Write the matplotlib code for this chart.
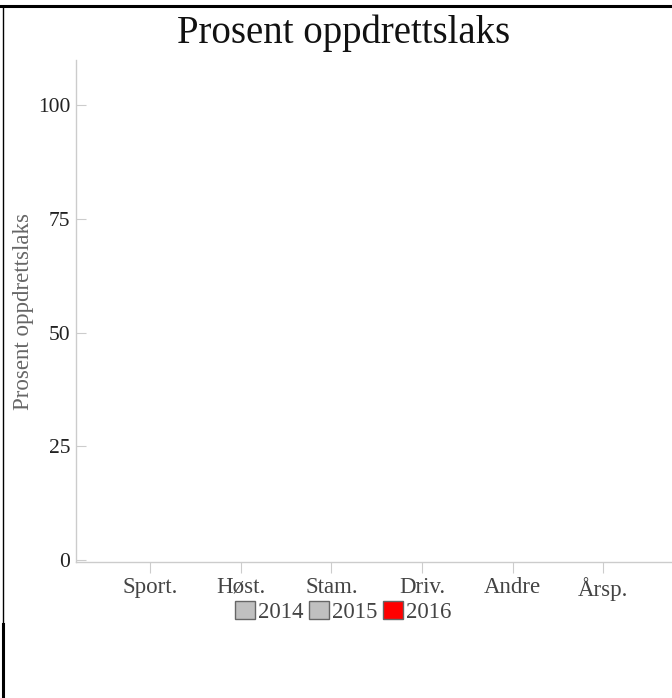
import numpy as np
import matplotlib.pyplot as plt
from matplotlib.lines import Line2D

plt.rcParams['font.family'] = ['Liberation Serif', 'DejaVu Serif']

# data (chart shows no bars for any year)
categories = ['Sport.', 'Høst.', 'Stam.', 'Driv.', 'Andre', 'Årsp.']
years = ['2014', '2015', '2016']
vals_2014 = [0, 0, 0, 0, 0, 0]
vals_2015 = [0, 0, 0, 0, 0, 0]
vals_2016 = [0, 0, 0, 0, 0, 0]
colors = ['#c0c0c0', '#c0c0c0', '#ff0000']
yticks = [0, 25, 50, 75, 100]

W, H = 672, 698
fig = plt.figure(figsize=(W / 100, H / 100), dpi=100)
ax = fig.add_axes([76 / W, (H - 562) / H, (W - 76) / W, (562 - 60) / H])

x = np.arange(len(categories))
bw = 0.25
series = [vals_2014, vals_2015, vals_2016]
handles = []
for i, (yr, vals) in enumerate(zip(years, series)):
    ax.bar(x + (i - 1) * bw, vals, width=bw, color=colors[i],
           edgecolor='#555555', linewidth=0, label=yr)
    handles.append(plt.Rectangle((0, 0), 1, 1, facecolor=colors[i],
                                 edgecolor='#666666', linewidth=1))

ax.set_xlim(-0.82, 5.76)
ax.set_ylim(-0.5, 110)
ax.set_xticks(x)
ax.set_xticklabels(categories)
ax.set_yticks(yticks)

for s in ['top', 'right']:
    ax.spines[s].set_visible(False)
for s in ['left', 'bottom']:
    ax.spines[s].set_color('#cccccc')
    ax.spines[s].set_linewidth(1)

ax.tick_params(axis='y', direction='in', length=7.5, color='#cccccc',
               labelsize=15.5, labelcolor='#222222', pad=4)
ax.tick_params(axis='x', direction='out', length=8, color='#cccccc',
               labelsize=16.5, labelcolor='#444444', pad=2.5)

fig.text(23 / W, 1 - 311 / H, 'Prosent oppdrettslaks', rotation=90,
         ha='center', va='center', fontsize=16.5, color='#666666')

fig.text(344 / W, 1 - 33 / H, 'Prosent oppdrettslaks', ha='center',
         va='center', fontsize=28, color='#111111')

fig.legend(handles, years, loc='center', bbox_to_anchor=(343 / W, 1 - 612 / H),
           ncol=3, frameon=False, fontsize=16.5, handlelength=0.87,
           handleheight=0.87, handletextpad=0.12, columnspacing=0.25,
           labelcolor='#444444', borderpad=0)

# page border lines from the original screenshot
fig.add_artist(Line2D([0, 1], [1 - 6 / H, 1 - 6 / H], color='black', lw=2.2))
fig.add_artist(Line2D([2.5 / W, 2.5 / W], [1 - 6 / H, 1 - 624 / H], color='black', lw=1))
fig.add_artist(Line2D([3 / W, 3 / W], [1 - 624 / H, 1 - 697 / H], color='black', lw=2.2))

fig.savefig('out.png', dpi=100)
